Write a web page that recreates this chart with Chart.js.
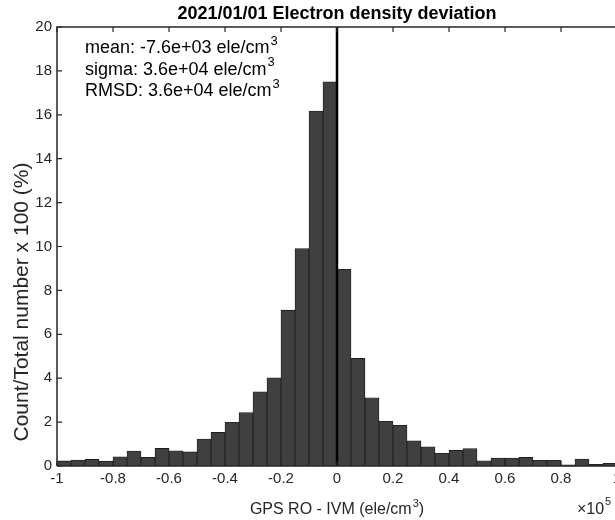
<!DOCTYPE html>
<html>
<head>
<meta charset="utf-8">
<script src="https://cdn.jsdelivr.net/npm/chart.js@4"></script>
<style>
  html, body { margin: 0; padding: 0; background: #fff; overflow: hidden; }
  #wrap { width: 620px; height: 520px; }
</style>
</head>
<body>
<div id="wrap"><canvas id="histChart" width="620" height="520"></canvas></div>
<script>
// bin centres (x 1e5 ele/cm3), bin width 0.05
const binCenters = [
  -0.975, -0.925, -0.875, -0.825, -0.775, -0.725, -0.675, -0.625, -0.575, -0.525,
  -0.475, -0.425, -0.375, -0.325, -0.275, -0.225, -0.175, -0.125, -0.075, -0.025,
  0.025, 0.075, 0.125, 0.175, 0.225, 0.275, 0.325, 0.375, 0.425, 0.475,
  0.525, 0.575, 0.625, 0.675, 0.725, 0.775, 0.825, 0.875, 0.925, 0.975,
];
// percentage per bin
const percents = [
  0.23, 0.27, 0.3, 0.22, 0.42, 0.68, 0.39, 0.8, 0.69, 0.64,
  1.23, 1.53, 1.99, 2.43, 3.38, 4.02, 7.1, 9.9, 16.17, 17.5,
  8.96, 4.9, 3.11, 2.04, 1.85, 1.15, 0.87, 0.58, 0.71, 0.79,
  0.24, 0.36, 0.36, 0.39, 0.26, 0.26, 0.05, 0.32, 0.08, 0.12,
];
const statLines = [
  "mean: -7.6e+03 ele/cm",
  "sigma: 3.6e+04 ele/cm",
  "RMSD: 3.6e+04 ele/cm",
];
const titleText = "2021/01/01 Electron density deviation";
const xTitle = "GPS RO - IVM (ele/cm";
const yTitle = "Count/Total number x 100 (%)";

const FONT = "'Liberation Sans', Arial, Helvetica, sans-serif";
const INK = "#262626";

// text with a raised "3" after it
function supText(ctx, s, x, y, size, sup, tail) {
  ctx.font = size + "px " + FONT;
  ctx.fillText(s, x, y);
  let w = ctx.measureText(s).width;
  ctx.font = Math.round(size * 0.7) + "px " + FONT;
  ctx.fillText(sup, x + w + 1, y - size * 0.45);
  w += ctx.measureText(sup).width + 1;
  if (tail) {
    ctx.font = size + "px " + FONT;
    ctx.fillText(tail, x + w, y);
  }
}

// title, box, inward ticks, zero line, labels and stats text
const decor = {
  id: "decor",
  afterDatasetsDraw(chart) {
    const { ctx, chartArea: a, scales } = chart;
    const xs = scales.x, ys = scales.y;
    ctx.save();

    // zero line
    ctx.strokeStyle = "#000";
    ctx.lineWidth = 2.5;
    const x0 = xs.getPixelForValue(0);
    ctx.beginPath();
    ctx.moveTo(x0, a.top);
    ctx.lineTo(x0, a.bottom);
    ctx.stroke();

    // box
    ctx.lineWidth = 1.5;
    ctx.strokeStyle = INK;
    ctx.beginPath();
    ctx.moveTo(a.left, a.bottom);
    ctx.lineTo(a.left, a.top);
    ctx.lineTo(a.right, a.top);
    ctx.lineTo(a.right, a.bottom);
    ctx.lineTo(a.left, a.bottom);
    ctx.stroke();

    // inward ticks
    ctx.lineWidth = 1.2;
    ctx.beginPath();
    xs.ticks.forEach(t => {
      const px = xs.getPixelForValue(t.value);
      ctx.moveTo(px, a.bottom);
      ctx.lineTo(px, a.bottom - 5);
      ctx.moveTo(px, a.top);
      ctx.lineTo(px, a.top + 5);
    });
    ys.ticks.forEach(t => {
      const py = ys.getPixelForValue(t.value);
      ctx.moveTo(a.left, py);
      ctx.lineTo(a.left + 5, py);
    });
    ctx.stroke();

    // title
    ctx.fillStyle = "#000";
    ctx.font = "bold 18px " + FONT;
    ctx.textAlign = "center";
    ctx.textBaseline = "alphabetic";
    ctx.fillText(titleText, x0, 19);

    // stats text
    ctx.textAlign = "left";
    statLines.forEach((s, i) => {
      supText(ctx, s, 85, 53 + i * 21.5, 18, "3");
    });

    // x axis title
    ctx.fillStyle = INK;
    ctx.font = "16px " + FONT;
    let w = ctx.measureText(xTitle).width;
    ctx.font = "11px " + FONT;
    w += ctx.measureText("3").width + 1;
    ctx.font = "16px " + FONT;
    w += ctx.measureText(")").width;
    supText(ctx, xTitle, x0 - w / 2, 514, 16, "3", ")");

    // y axis title
    ctx.save();
    ctx.translate(28, 302);
    ctx.rotate(-Math.PI / 2);
    ctx.textAlign = "center";
    ctx.font = "21px " + FONT;
    ctx.fillText(yTitle, 0, 0);
    ctx.restore();

    // x10^5 multiplier
    ctx.textAlign = "left";
    ctx.font = "16px " + FONT;
    ctx.fillText("\u00d710", 577, 514);
    ctx.font = "11px " + FONT;
    ctx.fillText("5", 605, 505);

    ctx.restore();
  },
};

const ctx = document.getElementById("histChart").getContext("2d");

new Chart(ctx, {
  type: "bar",
  data: {
    datasets: [
      {
        data: binCenters.map((c, i) => ({ x: c, y: percents[i] })),
        backgroundColor: "#404040",
        borderColor: "#1c1c1c",
        borderWidth: 0.8,
        barPercentage: 1,
        categoryPercentage: 1,
      },
    ],
  },
  options: {
    responsive: false,
    animation: false,
    layout: { padding: { top: 27, right: 3, left: 0, bottom: 0 } },
    plugins: {
      legend: { display: false },
      tooltip: { enabled: false },
    },
    scales: {
      x: {
        type: "linear",
        offset: false,
        min: -1,
        max: 1,
        afterFit: s => {
          s.height = 54;
          s.paddingLeft = 0;
          s.paddingRight = 0;
        },
        ticks: {
          stepSize: 0.2,
          color: INK,
          padding: 4,
          maxRotation: 0,
          font: { family: FONT, size: 15 },
          callback: v => String(Math.round(v * 10) / 10),
        },
        grid: { display: false, drawTicks: false },
        border: { display: false },
      },
      y: {
        min: 0,
        max: 20,
        afterFit: s => {
          s.width = 57;
          s.paddingTop = 0;
          s.paddingBottom = 0;
        },
        ticks: {
          stepSize: 2,
          color: INK,
          padding: 5,
          font: { family: FONT, size: 15 },
        },
        grid: { display: false, drawTicks: false },
        border: { display: false },
      },
    },
  },
  plugins: [decor],
});
</script>
</body>
</html>
